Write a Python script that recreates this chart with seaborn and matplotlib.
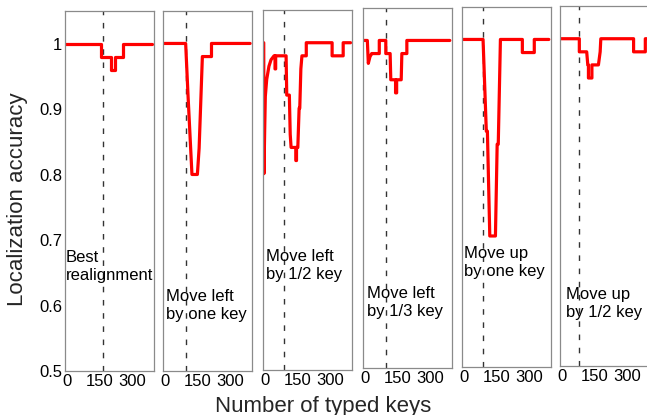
import matplotlib
matplotlib.use("Agg")
import matplotlib.pyplot as plt
import pandas as pd
import seaborn as sns

# Localization accuracy against the number of typed keys, one series per keyboard shift
keys_best = [-10, 158, 158, 201, 201, 219, 219, 258, 258, 390]
acc_best = [1.0, 1.0, 0.98, 0.98, 0.96, 0.96, 0.98, 0.98, 1.0, 1.0]

keys_left_one = [-10, 93, 104, 116, 122, 147, 155, 170, 212, 212, 390]
acc_left_one = [1.0, 1.0, 0.92, 0.84, 0.80, 0.80, 0.84, 0.98, 0.98, 1.0, 1.0]

keys_left_half = [-8, -7, -3.5, -0.7, 5.7, 16, 25.6, 39.5, 44, 44, 47, 47, 95, 98,
                  110, 114, 118, 140, 140, 143, 143, 149, 155, 158, 163, 168, 188,
                  188, 307, 307, 358, 358, 392]
acc_left_half = [1.0, 0.80, 0.869, 0.918, 0.944, 0.964, 0.974, 0.98, 0.98, 0.96, 0.96,
                 0.98, 0.98, 0.92, 0.92, 0.86, 0.84, 0.84, 0.82, 0.82, 0.84, 0.84,
                 0.90, 0.90, 0.96, 0.98, 0.98, 1.0, 1.0, 0.98, 0.98, 1.0, 1.0]

keys_left_third = [-8, 10, 14.5, 22, 30, 38, 65, 65, 95, 95, 115, 118, 140, 140,
                   145, 145, 166, 169, 192, 192, 390]
acc_left_third = [1.0, 1.0, 0.965, 0.975, 0.98, 0.98, 0.98, 1.0, 1.0, 0.98, 0.98,
                  0.94, 0.94, 0.92, 0.92, 0.94, 0.94, 0.98, 0.98, 1.0, 1.0]

keys_up_one = [-10, 87, 102, 107, 118, 144, 152, 157, 167, 268, 268, 323, 323, 390]
acc_up_one = [1.0, 1.0, 0.86, 0.86, 0.70, 0.70, 0.84, 0.84, 1.0, 1.0, 0.98, 0.98,
              1.0, 1.0]

keys_up_half = [-10, 79, 79, 113, 118, 121, 121, 137, 137, 167, 175, 178, 329, 329,
                383, 383, 395]
acc_up_half = [1.0, 1.0, 0.98, 0.98, 0.96, 0.96, 0.94, 0.94, 0.96, 0.96, 0.98, 1.0,
               1.0, 0.98, 0.98, 1.0, 1.0]

series_keys = [keys_best, keys_left_one, keys_left_half, keys_left_third,
               keys_up_one, keys_up_half]
series_acc = [acc_best, acc_left_one, acc_left_half, acc_left_third,
              acc_up_one, acc_up_half]

panel_labels = ["Best\nrealignment", "Move left\nby one key", "Move left\nby 1/2 key",
                "Move left\nby 1/3 key", "Move up\nby one key", "Move up\nby 1/2 key"]
label_keys = [-6, 1, 1, 9, 0, 16]
label_acc = [0.66, 0.60, 0.66, 0.60, 0.66, 0.595]

switch_keys = [167, 95, 86, 95, 88.6, 79]

x_ticks = [0, 150, 300]
x_tick_labels = ["0", "150", "300"]
y_ticks = [0.5, 0.6, 0.7, 0.8, 0.9, 1.0]
y_tick_labels = ["0.5", "0.6", "0.7", "0.8", "0.9", "1"]

sns.set_theme(style="white")
plt.rcParams["font.family"] = ["Liberation Sans", "DejaVu Sans"]

W, H = 647, 415
fig = plt.figure(figsize=(W / 100, H / 100), dpi=100)

# panel boxes in pixels: left, top, bottom
boxes = [(65, 11, 371), (163.3, 10.7, 371), (263.3, 10, 370),
         (363, 7.7, 368), (462, 6.7, 367), (560, 6, 366)]
panel_w = 89

frame_color = "#8a8a8a"
tick_fs = 12

for i, (left, top, bottom) in enumerate(boxes):
    ax = fig.add_axes([left / W, 1 - bottom / H, panel_w / W, (bottom - top) / H])
    df = pd.DataFrame({"keys": series_keys[i], "acc": series_acc[i]})
    sns.lineplot(data=df, x="keys", y="acc", ax=ax, color="#ff0000", lw=2.3,
                 estimator=None, sort=False, legend=False)
    ax.axvline(switch_keys[i], color="#333333", lw=1.0, ls=(0, (4, 5.5)), zorder=1)
    ax.text(label_keys[i], label_acc[i], panel_labels[i], ha="left", va="center",
            fontsize=tick_fs, color="black", linespacing=1.25)

    ax.set_xlim(-10, 400)
    ax.set_ylim(0.5, 1.05)
    ax.set_xticks(x_ticks)
    ax.set_xticklabels(x_tick_labels)
    if i == 0:
        ax.set_yticks(y_ticks)
        ax.set_yticklabels(y_tick_labels)
    else:
        ax.set_yticks([])
    ax.set_xlabel("")
    ax.set_ylabel("")
    ax.tick_params(axis="both", direction="in", length=3, width=0.8,
                   color=frame_color, labelsize=tick_fs, labelcolor="black", pad=2)
    for sp in ax.spines.values():
        sp.set_color(frame_color)
        sp.set_linewidth(0.9)
        sp.set_visible(True)

fig.text(18 / W, 1 - 199 / H, "Localization accuracy", rotation=90,
         ha="center", va="center", fontsize=16)
fig.text(323 / W, 1 - 411.5 / H, "Number of typed keys", ha="center",
         va="baseline", fontsize=16)

fig.savefig("out.png", dpi=100)
